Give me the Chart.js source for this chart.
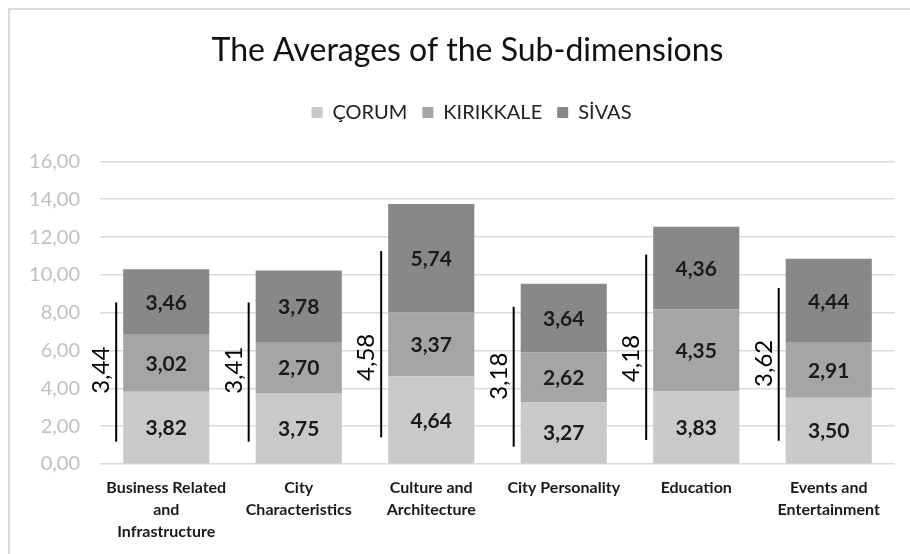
<!DOCTYPE html>
<html>
<head>
<meta charset="utf-8">
<title>The Averages of the Sub-dimensions</title>
<script src="https://cdn.jsdelivr.net/npm/chart.js@4.4.1/dist/chart.umd.min.js"></script>
<style>
  html, body { margin: 0; padding: 0; background: #fff; overflow: hidden; }
  #chart { display: block; }
</style>
</head>
<body>
<!-- the chart frame runs a little past the right edge of the window -->
<canvas id="chart" width="930" height="554"></canvas>
<script>
const categories = [
  ["Business Related", "and", "Infrastructure"],
  ["City", "Characteristics"],
  ["Culture and", "Architecture"],
  "City Personality",
  "Education",
  ["Events and", "Entertainment"]
];

const corum = [3.82, 3.75, 4.64, 3.27, 3.83, 3.50];
const kirikkale = [3.02, 2.70, 3.37, 2.62, 4.35, 2.91];
const sivas = [3.46, 3.78, 5.74, 3.64, 4.36, 4.44];

// overall mean per sub-dimension, drawn as a bracket left of each bar
const meanValues = [3.44, 3.41, 4.58, 3.18, 4.18, 3.62];
const meanLineFrom = [1.18, 1.18, 1.41, 0.92, 1.27, 1.23];
const meanLineTo = [8.54, 8.54, 11.26, 8.31, 11.07, 9.31];
const meanLabelAt = [4.96, 4.96, 5.64, 4.64, 5.58, 5.32];

const yMin = 0;
const yMax = 16;
const yStep = 2;

const FONT = "Lato, 'Open Sans', sans-serif";

function fmt(v) {
  return v.toFixed(2).replace(".", ",");
}

// white background, light grey frame, and title/legend centred on the frame
const framePlugin = {
  id: "frame",
  beforeLayout(chart) {
    // extra room between legend and plot
    const legend = chart.legend;
    if (legend && !legend._spaced) {
      const fit = legend.fit;
      legend.fit = function () {
        fit.call(this);
        this.height += 29;
      };
      legend._spaced = true;
    }
  },
  afterLayout(chart) {
    // the frame is wider than the plot, so its centre sits further right
    [[chart.titleBlock, 20], [chart.legend, 24]].forEach(([box, dx]) => {
      if (!box) return;
      box.left += dx;
      box.right += dx;
    });
  },
  beforeDraw(chart) {
    const ctx = chart.ctx;
    ctx.save();
    ctx.fillStyle = "#fff";
    ctx.fillRect(0, 0, chart.width, chart.height);
    ctx.strokeStyle = "#d9d9d9";
    ctx.lineWidth = 2;
    ctx.beginPath();
    ctx.moveTo(9, chart.height + 2);
    ctx.lineTo(9, 9);
    ctx.lineTo(chart.width - 5, 9);
    ctx.stroke();
    ctx.restore();
  }
};

// value in the middle of every stacked segment
const segmentLabels = {
  id: "segmentLabels",
  afterDatasetsDraw(chart) {
    const ctx = chart.ctx;
    ctx.save();
    ctx.font = "bold 21px " + FONT;
    ctx.fillStyle = "#1a1a1a";
    ctx.textAlign = "center";
    ctx.textBaseline = "middle";
    chart.data.datasets.forEach((ds, i) => {
      const meta = chart.getDatasetMeta(i);
      meta.data.forEach((bar, j) => {
        ctx.fillText(fmt(ds.data[j]), bar.x, (bar.y + bar.base) / 2 + 1);
      });
    });
    ctx.restore();
  }
};

// vertical line + rotated mean label beside each bar
const meanBrackets = {
  id: "meanBrackets",
  afterDatasetsDraw(chart) {
    const ctx = chart.ctx;
    const y = chart.scales.y;
    const bars = chart.getDatasetMeta(0).data;
    ctx.save();
    bars.forEach((bar, i) => {
      const x = bar.x - bar.width / 2 - 7;
      ctx.strokeStyle = "#000";
      ctx.lineWidth = 2;
      ctx.beginPath();
      ctx.moveTo(x, y.getPixelForValue(meanLineFrom[i]));
      ctx.lineTo(x, y.getPixelForValue(meanLineTo[i]));
      ctx.stroke();

      ctx.save();
      ctx.translate(x - 7, y.getPixelForValue(meanLabelAt[i]));
      ctx.rotate(-Math.PI / 2);
      ctx.font = "24px " + FONT;
      ctx.fillStyle = "#000";
      ctx.textAlign = "center";
      ctx.textBaseline = "alphabetic";
      ctx.fillText(fmt(meanValues[i]), 0, 0);
      ctx.restore();
    });
    ctx.restore();
  }
};

const ctx = document.getElementById("chart");

new Chart(ctx, {
  type: "bar",
  data: {
    labels: categories,
    datasets: [
      { label: "ÇORUM", data: corum, backgroundColor: "#c9c9c9" },
      { label: "KIRIKKALE", data: kirikkale, backgroundColor: "#a5a5a5" },
      { label: "SİVAS", data: sivas, backgroundColor: "#888888" }
    ]
  },
  options: {
    responsive: false,
    animation: false,
    devicePixelRatio: 1,
    layout: { padding: { left: 0, right: 35, top: 0, bottom: 0 } },
    datasets: {
      bar: { barPercentage: 0.65, categoryPercentage: 1 }
    },
    plugins: {
      title: {
        display: true,
        text: "The Averages of the Sub-dimensions",
        color: "#111",
        font: { family: FONT, size: 32, weight: "normal" },
        padding: { top: 31, bottom: 18 }
      },
      legend: {
        position: "top",
        labels: {
          color: "#222",
          font: { family: FONT, size: 20 },
          boxWidth: 11,
          boxHeight: 11,
          padding: 15
        }
      },
      tooltip: { enabled: false }
    },
    scales: {
      x: {
        stacked: true,
        afterFit(scale) { scale.height = 90; },
        grid: { display: false, drawTicks: false },
        border: { display: false },
        ticks: {
          color: "#1a1a1a",
          font: { family: FONT, size: 16, weight: "bold", lineHeight: 22 / 16 },
          padding: 13,
          maxRotation: 0,
          autoSkip: false
        }
      },
      y: {
        stacked: true,
        min: yMin,
        max: yMax,
        afterFit(scale) { scale.width = 100; },
        grid: { color: "#d9d9d9", lineWidth: 1.5, drawTicks: false },
        border: { display: false },
        ticks: {
          stepSize: yStep,
          color: "#bfbfbf",
          font: { family: FONT, size: 20 },
          padding: 20,
          callback: (v) => fmt(v)
        }
      }
    }
  },
  plugins: [framePlugin, segmentLabels, meanBrackets]
});
</script>
</body>
</html>
